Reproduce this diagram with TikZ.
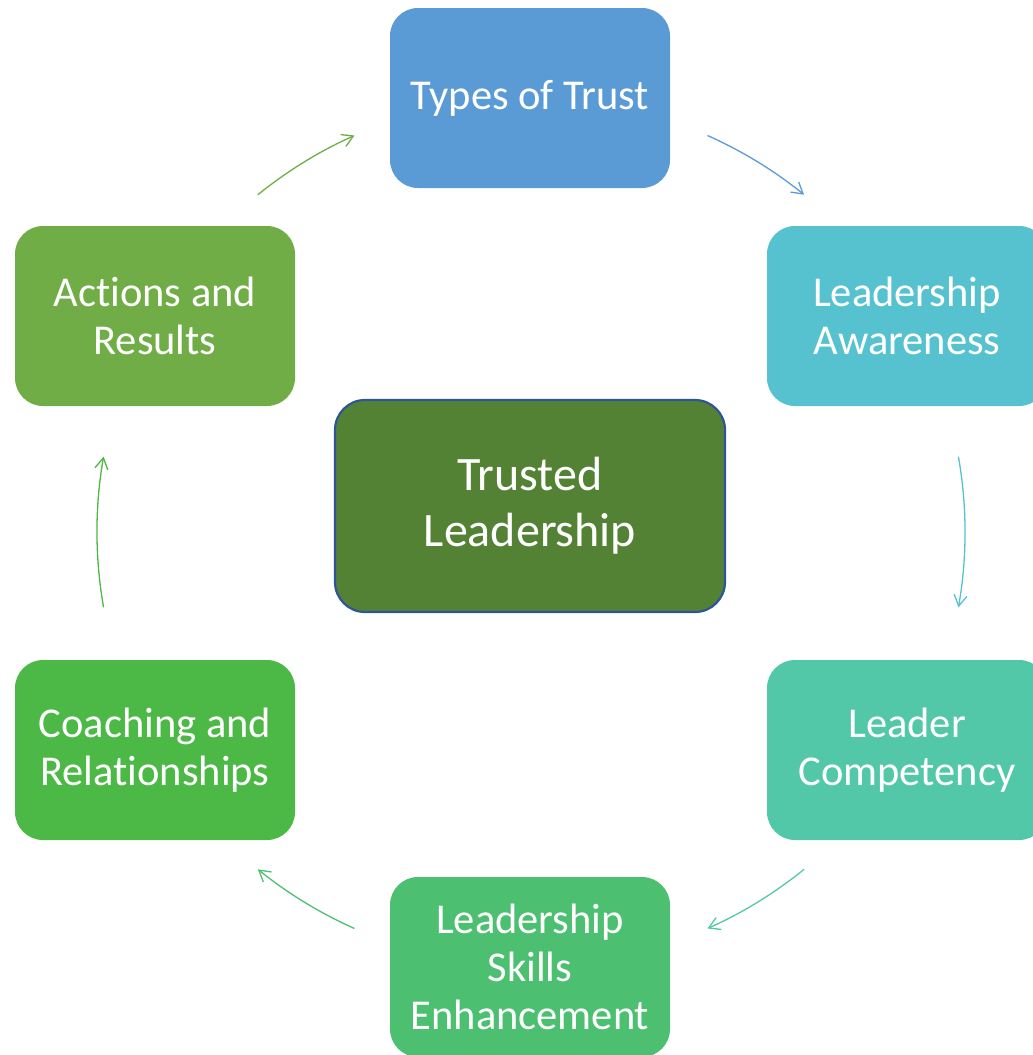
\documentclass[tikz,border=0pt]{standalone}
\usepackage{fontspec}
\setmainfont{Carlito}[Ligatures=NoCommon]
\definecolor{trustBlue}{RGB}{91,155,213}
\definecolor{awareTeal}{RGB}{86,194,207}
\definecolor{competGreen}{RGB}{83,200,168}
\definecolor{skillGreen}{RGB}{76,192,112}
\definecolor{coachGreen}{RGB}{76,185,70}
\definecolor{actionGreen}{RGB}{112,173,71}
\definecolor{coreGreen}{RGB}{84,130,53}
\definecolor{coreBorder}{RGB}{47,85,151}
\usetikzlibrary{arrows.meta}

\begin{document}
\begin{tikzpicture}[x=1pt, y=-1pt,
    stage/.style={rounded corners=28pt, minimum width=280pt, minimum height=180pt,
        inner sep=0pt, text=white, align=center, font=\fontsize{42.5}{48}\selectfont},
    cycle/.style={line width=1.3pt, -{Straight Barb[length=11pt, width=13pt]}}]
    \useasboundingbox (0,0) rectangle (1033,1055);
    \coordinate (c) at (531,532);

    % six stages round the circle
    \node[stage, fill=trustBlue] (types) at (530,98) {Types of Trust};
    \node[stage, fill=awareTeal] (aware) at (907,316) {Leadership\\Awareness};
    \node[stage, fill=competGreen] (compet) at (907,750) {Leader\\Competency};
    \node[stage, fill=skillGreen] (skills) at (530,967) {Leadership\\Skills\\Enhancement};
    \node[stage, fill=coachGreen] (coach) at (155,750) {Coaching and\\Relationships};
    \node[stage, fill=actionGreen] (actions) at (155,316) {Actions and\\Results};

    % centre box
    \node[rounded corners=30pt, minimum width=390pt, minimum height=212pt, inner sep=0pt,
        fill=coreGreen, draw=coreBorder, line width=2.2pt, text=white, align=center,
        font=\fontsize{48}{56}\selectfont] (core) at (530,506) {Trusted\\Leadership};

    % arcs between the stages
    \foreach \a/\b/\col in {-66/-51/trustBlue, -10/10/awareTeal, 51/66/competGreen,
            114/129/skillGreen, 170/190/coachGreen, 231/246/actionGreen}
        \draw[cycle, \col] ([shift={(c)}]\a:434) arc[start angle=\a, end angle=\b, radius=434];
\end{tikzpicture}
\end{document}
